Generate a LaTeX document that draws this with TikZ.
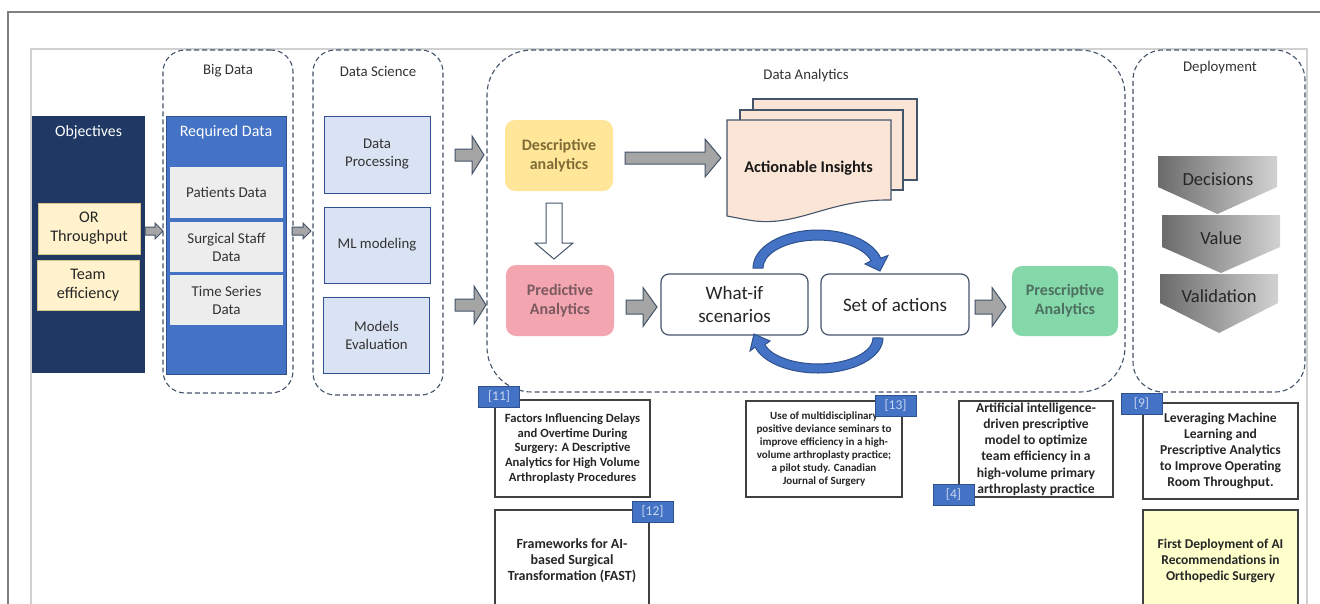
\documentclass[tikz,border=0pt]{standalone}
\usepackage{fontspec}
\setmainfont{Carlito}
\usetikzlibrary{arrows.meta}
\definecolor{navy}{HTML}{203864}
\definecolor{blu}{HTML}{4472C4}
\definecolor{bluedge}{HTML}{2F528F}
\definecolor{slate}{HTML}{44546A}
\definecolor{lgray}{HTML}{EDEDED}
\definecolor{lblue}{HTML}{DAE3F3}
\definecolor{cream}{HTML}{FFF2CC}
\definecolor{creamedge}{HTML}{D9C48A}
\definecolor{descfill}{HTML}{FFE699}
\definecolor{predfill}{HTML}{F4A6B0}
\definecolor{prescfill}{HTML}{84D8AA}
\definecolor{desctext}{HTML}{7F6C35}
\definecolor{predtext}{HTML}{7B5960}
\definecolor{presctext}{HTML}{4E7060}
\definecolor{peach}{HTML}{FBE5D6}
\definecolor{arrgray}{HTML}{A5A5A5}
\definecolor{yel}{HTML}{FFFFCC}
\definecolor{reftext}{HTML}{262626}
\definecolor{labtext}{HTML}{C9D6F0}
\definecolor{framegray}{HTML}{7F7F7F}
\definecolor{innergray}{HTML}{D0D0D0}
\definecolor{chevdark}{HTML}{6B6B6B}
\definecolor{chevlight}{HTML}{D2D2D2}
\newcommand\fsz[2]{\fontsize{#1}{#2}\selectfont}
\newcommand\blockarr[6]{\draw[blockarrow] (#1,#3-#4) -- (#2-#6,#3-#4) -- (#2-#6,#3-#5) -- (#2,#3) -- (#2-#6,#3+#5) -- (#2-#6,#3+#4) -- (#1,#3+#4) -- cycle;}
\tikzset{
  container/.style={draw=slate, line width=1.1pt, dash pattern=on 5pt off 3pt, inner sep=0pt, outer sep=0pt},
  contlabel/.style={font=\fsz{14.8}{17}, text=black!80},
  plainbox/.style={inner sep=0pt, outer sep=0pt, align=center},
  objitem/.style={plainbox, fill=cream, draw=creamedge, line width=0.8pt, minimum width=102, font=\fsz{16.2}{19}, text=black!85},
  dataitem/.style={plainbox, fill=lgray, minimum width=113, minimum height=50, font=\fsz{15}{18}, text=black!80},
  dsbox/.style={plainbox, fill=lblue, draw=bluedge, line width=1pt, minimum width=106, minimum height=76, font=\fsz{14.8}{18}, text=black!80},
  analytic/.style={plainbox, rounded corners=10pt, minimum width=108, minimum height=71, font=\fsz{16}{19}\bfseries},
  scenbox/.style={plainbox, draw=slate, line width=1.2pt, fill=white, rounded corners=8pt, minimum height=61, font=\fsz{19}{23}, text=black!85},
  blockarrow/.style={fill=arrgray, draw=slate, line width=1pt, line join=miter},
  hollowarrow/.style={fill=white, draw=slate, line width=1pt},
  cyclearrow/.style={fill=blu, draw=bluedge, line width=1pt},
  pagesheet/.style={fill=peach, draw=slate, line width=1.1pt},
  chev/.style={left color=chevdark, right color=chevlight, draw=none},
  chevtext/.style={font=\fsz{18.5}{20}, text=black!85},
  refbox/.style={plainbox, draw=black!75, line width=1.3pt, fill=white, font=\bfseries, text=reftext},
  reflab/.style={plainbox, fill=blu, draw=bluedge, line width=1pt, minimum width=41, minimum height=21, font=\fsz{13.5}{15}, text=labtext}
}
\begin{document}
\begin{tikzpicture}[x=1pt,y=-1pt]
\useasboundingbox (0,0) rectangle (1320,603);
\clip (0,0) rectangle (1320,603);
\fill[white] (0,0) rectangle (1320,603);
% frames
\draw[framegray, line width=1.3pt] (8,620) -- (8,12) -- (1330,12);
\draw[innergray, line width=1.5pt] (31,620) -- (31,49) -- (1307,49) -- (1307,620);

% Objectives
\node[plainbox, fill=navy, minimum width=113, minimum height=257] (obj) at (88.5,244.5) {};
\node[font=\fsz{15.8}{17}, text=white] (objt) at (88.5,132) {Objectives};
\node[objitem, minimum height=51] (orthr) at (89,228.5) {OR\\Throughput};
\node[objitem, minimum height=50] (team) at (88,285) {Team\\efficiency};

% Big Data
\node[container, rounded corners=22pt, minimum width=130, minimum height=343] (bigc) at (228,221.5) {};
\node[contlabel] (bigl) at (228,71) {Big Data};
\node[plainbox, fill=blu, draw=bluedge, line width=1pt, minimum width=120, minimum height=258] (req) at (226,245) {};
\node[font=\fsz{16}{17}, text=white] (reqt) at (226,132) {Required Data};
\node[dataitem, minimum height=51] (pat) at (226.5,192.5) {Patients Data};
\node[dataitem] (staff) at (226.5,247) {Surgical Staff\\Data};
\node[dataitem] (ts) at (226.5,300) {Time Series\\Data};

% Data Science
\node[container, rounded corners=22pt, minimum width=130, minimum height=345] (dsc) at (378,222.5) {};
\node[contlabel] (dsl) at (378,71) {Data Science};
\node[dsbox, minimum height=77] (dproc) at (377,154.5) {Data\\Processing};
\node[dsbox] (ml) at (377,245) {ML modeling};
\node[dsbox] (meval) at (376.5,335) {Models\\Evaluation};

% Data Analytics container
\node[container, rounded corners=45pt, minimum width=638, minimum height=342] (dac) at (806,221) {};
\node[contlabel] (dal) at (806,76) {Data Analytics};
% Deployment container
\node[container, rounded corners=30pt, minimum width=172, minimum height=342] (depc) at (1219,221) {};
\node[contlabel] (depl) at (1220,68) {Deployment};

% block arrows
\blockarr{145}{163}{231}{4}{8}{8}
\blockarr{292}{311}{231}{4}{8}{8}
\blockarr{455}{484}{155}{6}{19}{12}
\blockarr{455}{486}{305}{6}{19}{12}
\blockarr{625}{721}{158}{6}{19}{16}
\blockarr{626}{657}{307}{7}{19.5}{14}
\blockarr{975}{1006}{307}{7}{19.5}{14}

% analytics boxes
\node[analytic, fill=descfill, text=desctext] (desc) at (559,155.5) {Descriptive\\analytics};
\node[analytic, fill=predfill, text=predtext] (pred) at (560,300.5) {Predictive\\Analytics};
\node[analytic, fill=prescfill, text=presctext, minimum width=106, minimum height=70] (presc) at (1065,301) {Prescriptive\\Analytics};

% hollow down arrow
\draw[hollowarrow] (546,203) -- (562,203) -- (562,243) -- (573,243) -- (554,259) -- (535,243) -- (546,243) -- cycle;

% Actionable insights stack
\draw[pagesheet] (753,180) -- (753,99) -- (917,99) -- (917,180) -- cycle;
\draw[pagesheet] (740,190) -- (740,110) -- (903,110) -- (903,190) -- cycle;
\draw[pagesheet] (727,216) -- (727,120) -- (891,120) -- (891,200) .. controls (830,199) and (800,226) .. (755,221) .. controls (741,219) and (733,217) .. (727,216) -- cycle;
\node[font=\fsz{16.3}{17}\bfseries, text=black!90] (ains) at (808.5,168) {Actionable Insights};

% scenario boxes
\node[scenbox, minimum width=147] (whatif) at (734.5,304.5) {What-if\\scenarios};
\node[scenbox, minimum width=148] (setact) at (895,304.5) {Set of actions};

% cycle arrows
\draw[cyclearrow] (753,268) arc[start angle=180, end angle=345, x radius=65, y radius=38]
  -- (888,255.5) -- (880,271) -- (865,264) -- (871.1,260.8)
  arc[start angle=345, end angle=180, x radius=55, y radius=28] -- cycle;
\draw[cyclearrow] (883,338) arc[start angle=0, end angle=165, x radius=65, y radius=35]
  -- (750,351) -- (754,334) -- (770,341) -- (764.9,344.7)
  arc[start angle=165, end angle=0, x radius=55, y radius=26] -- cycle;

% Deployment chevrons
\shade[chev] (1158,156) -- (1277,156) -- (1277,187) -- (1217.5,214) -- (1158,187) -- cycle;
\shade[chev] (1162,215) -- (1280,215) -- (1280,247) -- (1221,273) -- (1162,247) -- cycle;
\shade[chev] (1160,274) -- (1278,274) -- (1278,303) -- (1219,333) -- (1160,303) -- cycle;
\node[chevtext] (dec) at (1218,179) {Decisions};
\node[chevtext] (val) at (1221,238) {Value};
\node[chevtext] (valid) at (1219,296) {Validation};

% reference boxes
\node[refbox, minimum width=155, minimum height=97, font=\fsz{12.6}{14.7}\bfseries] (r11) at (572.5,448.5) {Factors Influencing Delays\\and Overtime During\\Surgery: A Descriptive\\Analytics for High Volume\\Arthroplasty Procedures};
\node[reflab] (l11) at (499,396.5) {[11]};

\node[refbox, minimum width=154, minimum height=102, font=\fsz{14}{16}\bfseries] (r12) at (572,561) {Frameworks for AI-\\based Surgical\\Transformation (FAST)};
\node[reflab] (l12) at (652.5,512) {[12]};

\node[refbox, minimum width=156, minimum height=96, font=\fsz{11}{13}\bfseries] (r13) at (824,449) {Use of multidisciplinary\\positive deviance seminars to\\improve efficiency in a high-\\volume arthroplasty practice;\\a pilot study. Canadian\\Journal of Surgery};
\node[reflab] (l13) at (895.5,406) {[13]};

\node[refbox, minimum width=154, minimum height=96, font=\fsz{13.6}{16.2}\bfseries] (r4) at (1036,449) {Artificial intelligence-\\driven prescriptive\\model to optimize\\team efficiency in a\\high-volume primary\\arthroplasty practice};
\node[reflab] (l4) at (953.5,494.5) {[4]};

\node[refbox, minimum width=155, minimum height=96, font=\fsz{13.6}{16}\bfseries] (r9) at (1220.5,451) {Leveraging Machine\\Learning and\\Prescriptive Analytics\\to Improve Operating\\Room Throughput.};
\node[reflab] (l9) at (1141.5,403.5) {[9]};

\node[refbox, fill=yel, minimum width=155, minimum height=102, font=\fsz{13.5}{16}\bfseries] (fdep) at (1220.5,561) {First Deployment of AI\\Recommendations in\\Orthopedic Surgery};
\end{tikzpicture}
\end{document}
